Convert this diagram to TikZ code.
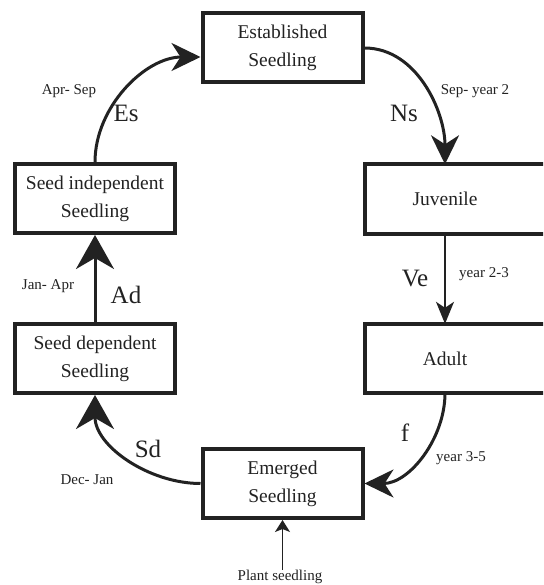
\documentclass[tikz,border=0pt]{standalone}
\usepackage{fontspec}
\setmainfont{Liberation Serif}
\newfontfamily\tms{Liberation Serif}
\usetikzlibrary{arrows.meta,calc}
\definecolor{ink}{HTML}{222222}
\begin{document}
\begin{tikzpicture}[x=1pt,y=-1pt,
  box/.style={draw=ink,line width=4pt,minimum width=160pt,minimum height=69pt,inner sep=0pt,align=center,font=\tms\fontsize{19.5}{28}\selectfont,text=ink},
  openbox/.style={minimum width=160pt,minimum height=69pt,inner sep=0pt,align=center,font=\tms\fontsize{19.5}{28}\selectfont,text=ink},
  frame/.style={draw=ink,line width=4pt},
  bigarrow/.style={draw=ink,line width=3pt,-{Stealth[length=29pt,width=28pt,inset=9pt]}},
  hugearrow/.style={draw=ink,line width=3pt,-{Stealth[length=34pt,width=38pt,inset=11pt]}},
  thinarrow/.style={draw=ink,line width=1.6pt,-{Stealth[length=22pt,width=18pt,inset=6pt]}},
  plantarrow/.style={draw=ink,line width=1.4pt,-{Stealth[length=12pt,width=15pt,inset=3pt]}},
  biglab/.style={font=\tms\fontsize{25}{28}\selectfont,text=ink,inner sep=0pt},
  smalllab/.style={font=\tms\fontsize{15}{18}\selectfont,text=ink,inner sep=0pt}]
\clip (0,0) rectangle (543,585);
\fill[white] (0,0) rectangle (543,585);
% nodes
\node[box] (est) at (282.5,48) {Established\\Seedling};
\node[box] (si) at (95,198.5) {Seed independent\\Seedling};
\node[box] (sd) at (95,358.5) {Seed dependent\\Seedling};
\node[box] (em) at (282.5,483.5) {Emerged\\Seedling};
\node[openbox] (juv) at (445,199) {Juvenile};
\node[openbox] (ad) at (445,358.5) {Adult};
\coordinate (edge) at (560,0);
\draw[frame] (edge |- juv.north) -- (juv.north west) -- (juv.south west) -- (edge |- juv.south);
\draw[frame] (edge |- ad.north) -- (ad.north west) -- (ad.south west) -- (edge |- ad.south);
% connectors
\draw[bigarrow] (si.north) to[out=90,in=180,looseness=0.95] ($(est.west)+(0,9)$);
\draw[bigarrow] (est.east) to[out=0,in=90,looseness=0.95] (juv.north);
\draw[thinarrow] (juv.south) -- (ad.north);
\draw[bigarrow] (ad.south) to[out=-90,in=0,looseness=0.95] (em.east);
\draw[hugearrow] (em.west) to[out=180,in=-90,looseness=0.95] (sd.south);
\draw[hugearrow] (sd.north) -- (si.south);
\node[smalllab] (plant) at (280,577) {Plant seedling};
\draw[plantarrow] (plant.north -| em.south) -- (em.south);
% labels
\node[smalllab] (l1) at (69,91) {Apr- Sep};
\node[biglab] (l2) at (126,113) {Es};
\node[smalllab] (l3) at (475,91) {Sep- year 2};
\node[biglab] (l4) at (404,113) {Ns};
\node[smalllab] (l5) at (48,286) {Jan- Apr};
\node[biglab] (l6) at (126,295) {Ad};
\node[biglab] (l7) at (415,279) {Ve};
\node[smalllab] (l8) at (484,274) {year 2-3};
\node[biglab] (l9) at (405,433) {f};
\node[smalllab] (l10) at (461,458) {year 3-5};
\node[biglab] (l11) at (148,449) {Sd};
\node[smalllab] (l12) at (87,480) {Dec- Jan};
\end{tikzpicture}
\end{document}
